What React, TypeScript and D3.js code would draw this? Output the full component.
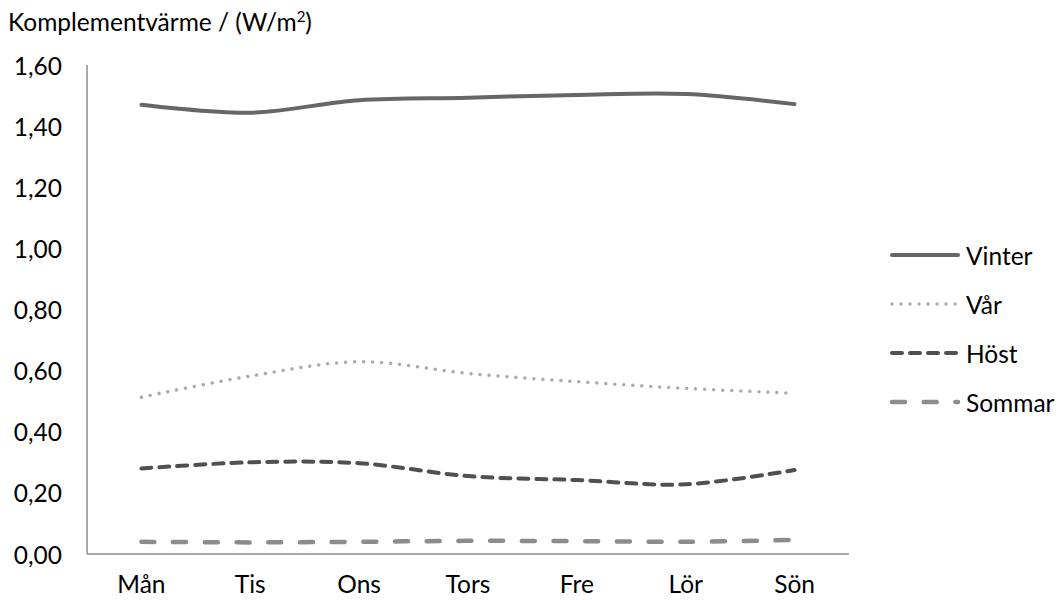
import React from "react";
import * as d3 from "d3";

// Daily supplementary heat per season, W/m²
const days = ["Mån", "Tis", "Ons", "Tors", "Fre", "Lör", "Sön"];
const vinter = [1.47, 1.444, 1.485, 1.493, 1.502, 1.505, 1.472];
const var_ = [0.513, 0.582, 0.629, 0.591, 0.564, 0.542, 0.526];
const host = [0.28, 0.3, 0.297, 0.255, 0.242, 0.228, 0.275];
const sommar = [0.04, 0.038, 0.04, 0.043, 0.042, 0.04, 0.046];
const yTicks = [0, 0.2, 0.4, 0.6, 0.8, 1.0, 1.2, 1.4, 1.6];

const seriesNames = ["Vinter", "Vår", "Höst", "Sommar"];
const seriesValues = [vinter, var_, host, sommar];

const styles = [
  { color: "#666666", width: 4, dash: undefined as string | undefined },
  { color: "#ababab", width: 3.5, dash: "0.01 9" },
  { color: "#505050", width: 4, dash: "10 8" },
  { color: "#8c8c8c", width: 4.5, dash: "13 18.7" },
];

const W = 1062;
const H = 600;
const left = 87;
const right = 849;
const top = 65;
const bottom = 554;
const FONT = "Lato, 'Open Sans', sans-serif";
const FS = 24.5;

const svLocale = d3.formatLocale({
  decimal: ",",
  thousands: " ",
  grouping: [3],
  currency: ["", " kr"],
});
const fmt = svLocale.format(".2f");

export default function App() {
  const x = d3.scalePoint<string>().domain(days).range([left, right]).padding(0.5);
  const y = d3.scaleLinear().domain([0, 1.6]).range([bottom, top]);

  const line = d3
    .line<number>()
    .x((_, i) => x(days[i]) as number)
    .y((d) => y(d))
    .curve(d3.curveCatmullRom.alpha(0));

  const axisColor = "#8c8c8c";

  return (
    <svg
      width={W}
      height={H}
      style={{ position: "absolute", left: 0, top: 0, background: "#fff" }}
      fontFamily={FONT}
    >
      <rect width={W} height={H} fill="#fff" />
      <text x={8} y={31} fontSize={FS} fill="#000">
        Komplementvärme / (W/m
        <tspan fontSize={15} dy={-9}>
          2
        </tspan>
        <tspan dy={9}>)</tspan>
      </text>

      {/* axes */}
      <line x1={left} x2={left} y1={top} y2={bottom} stroke={axisColor} strokeWidth={1.5} />
      <line x1={left} x2={right} y1={bottom} y2={bottom} stroke={axisColor} strokeWidth={1.5} />

      {yTicks.map((t) => (
        <text
          key={t}
          x={62}
          y={y(t)}
          textAnchor="end"
          dominantBaseline="central"
          fontSize={FS}
          fill="#000"
        >
          {fmt(t)}
        </text>
      ))}

      {days.map((d) => (
        <text
          key={d}
          x={x(d) as number}
          y={583}
          textAnchor="middle"
          dominantBaseline="central"
          fontSize={FS}
          fill="#000"
        >
          {d}
        </text>
      ))}

      {/* series */}
      {seriesValues.map((vals, i) => (
        <path
          key={seriesNames[i]}
          d={line(vals) || ""}
          fill="none"
          stroke={styles[i].color}
          strokeWidth={styles[i].width}
          strokeDasharray={styles[i].dash}
          strokeLinecap="round"
          strokeLinejoin="round"
        />
      ))}

      {/* legend */}
      {seriesNames.map((name, i) => {
        const ly = 255 + i * 49;
        return (
          <g key={name}>
            <line
              x1={892}
              x2={958}
              y1={ly}
              y2={ly}
              stroke={styles[i].color}
              strokeWidth={styles[i].width}
              strokeDasharray={styles[i].dash}
              strokeLinecap="round"
            />
            <text x={966} y={ly} dominantBaseline="central" fontSize={FS} fill="#000">
              {name}
            </text>
          </g>
        );
      })}
    </svg>
  );
}
